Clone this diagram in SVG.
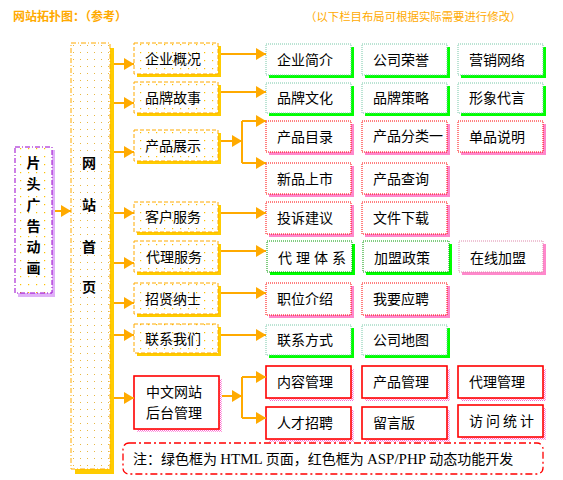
<svg xmlns="http://www.w3.org/2000/svg" width="563" height="480" viewBox="0 0 563 480">
<defs>
<pattern id="dotsMain" width="7" height="7" patternUnits="userSpaceOnUse"><rect x="3" y="3" width="1" height="1" fill="#E8B840"/></pattern>
<pattern id="dotsL1" width="8" height="8" patternUnits="userSpaceOnUse"><rect x="4" y="4" width="1.2" height="1.2" fill="#FFC000"/></pattern>
<pattern id="pinkChk" width="2" height="2" patternUnits="userSpaceOnUse"><rect width="1" height="1" fill="#FF66CC"/><rect x="1" y="1" width="1" height="1" fill="#FF99DD"/></pattern>
<marker id="arr" markerUnits="userSpaceOnUse" markerWidth="11" markerHeight="12" refX="10" refY="6" orient="auto"><path d="M0,0 L10,6 L0,12 Z" fill="#FFAA00"/></marker>
<style>
.t{font-family:"Noto Sans CJK SC","Noto Sans",sans-serif;font-size:14px;fill:#000}
.tb{font-family:"Noto Sans CJK SC","Noto Sans",sans-serif;font-size:14px;font-weight:bold;fill:#000}
.lat{font-family:"Liberation Serif",serif}
.hd{font-family:"Noto Sans CJK SC",sans-serif;fill:#FFAA00}
.l1{fill:url(#dotsL1);stroke:#FFAA00;stroke-width:1;stroke-dasharray:4 2}
.l1bg{fill:#fff}
.sy{fill:#FFCC00}
.sg{fill:#00FF00}
.sp{fill:#FF88CC}
.sc{fill:url(#pinkChk)}
.bg{fill:#fff;stroke:#77C8A8;stroke-width:1;stroke-dasharray:1 1}
.bd{fill:#fff;stroke:#009900;stroke-width:1;stroke-dasharray:1 1}
.br{fill:#fff;stroke:#FF0000;stroke-width:1;stroke-dasharray:1 1}
.bp{fill:#fff;stroke:#DD88AA;stroke-width:1;stroke-dasharray:1 1}
.bs{fill:#fff;stroke:#FF0000;stroke-width:1.6}
.c{fill:none;stroke:#FFAA00;stroke-width:2}
</style>
</defs>
<rect width="563" height="480" fill="#fff"/>
<text class="hd" x="13" y="21" font-size="12" font-weight="bold">网站拓扑图：（参考）</text>
<text class="hd" x="305" y="21" font-size="11.4">（以下栏目布局可根据实际需要进行修改）</text>

<g id="intro">
<rect x="18" y="150" width="37" height="147" fill="#E0B0F8"/>
<rect x="15" y="147" width="37" height="146" fill="#fff"/>
<rect x="15" y="147" width="37" height="146" fill="url(#dotsL1)" stroke="#9900CC" stroke-width="1" stroke-dasharray="5 2 1 2"/>
<text class="tb" x="33.5" y="168" text-anchor="middle">片</text>
<text class="tb" x="33.5" y="189" text-anchor="middle">头</text>
<text class="tb" x="33.5" y="210" text-anchor="middle">广</text>
<text class="tb" x="33.5" y="231" text-anchor="middle">告</text>
<text class="tb" x="33.5" y="252" text-anchor="middle">动</text>
<text class="tb" x="33.5" y="273" text-anchor="middle">画</text>
</g>

<g id="home">
<rect x="75" y="48" width="39" height="426" class="sy"/>
<rect x="71" y="43" width="39" height="426" fill="#fff"/>
<rect x="71" y="43" width="39" height="426" fill="url(#dotsMain)" stroke="#FFAA00" stroke-width="1" stroke-dasharray="5 2 1 2"/>
<text class="tb" x="89" y="168" text-anchor="middle">网</text>
<text class="tb" x="89" y="210" text-anchor="middle">站</text>
<text class="tb" x="89" y="252" text-anchor="middle">首</text>
<text class="tb" x="89" y="292" text-anchor="middle">页</text>
</g>

<g id="l1-qygk"><rect x="137" y="46" width="84" height="31" class="sy"/><rect x="134" y="43" width="84" height="31" class="l1bg"/><rect x="134" y="43" width="84" height="31" class="l1"/><text class="t" x="145" y="64">企业概况</text></g>
<g id="l1-ppgs"><rect x="137" y="85" width="84" height="31" class="sy"/><rect x="134" y="82" width="84" height="31" class="l1bg"/><rect x="134" y="82" width="84" height="31" class="l1"/><text class="t" x="145" y="103">品牌故事</text></g>
<g id="l1-cpzs"><rect x="137" y="133" width="84" height="31" class="sy"/><rect x="134" y="130" width="84" height="31" class="l1bg"/><rect x="134" y="130" width="84" height="31" class="l1"/><text class="t" x="145" y="151">产品展示</text></g>
<g id="l1-khfw"><rect x="137" y="205" width="84" height="30" class="sy"/><rect x="134" y="202" width="84" height="30" class="l1bg"/><rect x="134" y="202" width="84" height="30" class="l1"/><text class="t" x="145" y="222">客户服务</text></g>
<g id="l1-dlfw"><rect x="137" y="244" width="84" height="31" class="sy"/><rect x="134" y="241" width="84" height="31" class="l1bg"/><rect x="134" y="241" width="84" height="31" class="l1"/><text class="t" x="146" y="262">代理服务</text></g>
<g id="l1-zxns"><rect x="137" y="286" width="84" height="31" class="sy"/><rect x="134" y="283" width="84" height="31" class="l1bg"/><rect x="134" y="283" width="84" height="31" class="l1"/><text class="t" x="145" y="304">招贤纳士</text></g>
<g id="l1-lxwm"><rect x="137" y="327" width="84" height="29" class="sy"/><rect x="134" y="324" width="84" height="29" class="l1bg"/><rect x="134" y="324" width="84" height="29" class="l1"/><text class="t" x="145" y="344">联系我们</text></g>
<g id="l1-htgl"><rect x="137" y="379" width="85" height="53" class="sc"/><rect x="134" y="376" width="85" height="53" class="bs"/><text class="t" x="146" y="397">中文网站</text><text class="t" x="146" y="418">后台管理</text></g>

<g id="n-qyjj"><rect x="269" y="47" width="85" height="31" class="sg"/><rect x="266" y="44" width="85" height="31" class="bg"/><text class="t" x="277" y="65">企业简介</text></g>
<g id="n-gsry"><rect x="365" y="47" width="85" height="31" class="sg"/><rect x="362" y="44" width="85" height="31" class="bg"/><text class="t" x="373" y="65">公司荣誉</text></g>
<g id="n-yxwl"><rect x="461" y="47" width="85" height="31" class="sg"/><rect x="458" y="44" width="85" height="31" class="bg"/><text class="t" x="469" y="65">营销网络</text></g>

<g id="n-ppwh"><rect x="269" y="86" width="85" height="30" class="sg"/><rect x="266" y="83" width="85" height="30" class="bg"/><text class="t" x="277" y="103">品牌文化</text></g>
<g id="n-ppcl"><rect x="365" y="86" width="85" height="30" class="sg"/><rect x="362" y="83" width="85" height="30" class="bg"/><text class="t" x="373" y="103">品牌策略</text></g>
<g id="n-xxdy"><rect x="461" y="86" width="85" height="30" class="sg"/><rect x="458" y="83" width="85" height="30" class="bg"/><text class="t" x="469" y="103">形象代言</text></g>

<g id="n-cpml"><rect x="269" y="124" width="85" height="31" class="sp"/><rect x="266" y="121" width="85" height="31" class="br"/><text class="t" x="277" y="142">产品目录</text></g>
<g id="n-cpfl"><rect x="365" y="124" width="85" height="31" class="sp"/><rect x="362" y="121" width="85" height="31" class="br"/><text class="t" x="373" y="141" font-size="12">产品分类一</text></g>
<g id="n-dpsm"><rect x="461" y="124" width="85" height="31" class="sp"/><rect x="458" y="121" width="85" height="31" class="br"/><text class="t" x="469" y="142">单品说明</text></g>

<g id="n-xpss"><rect x="269" y="166" width="85" height="31" class="sp"/><rect x="266" y="163" width="85" height="31" class="br"/><text class="t" x="277" y="184">新品上市</text></g>
<g id="n-cpcx"><rect x="365" y="166" width="85" height="31" class="sp"/><rect x="362" y="163" width="85" height="31" class="br"/><text class="t" x="373" y="184">产品查询</text></g>

<g id="n-tsjy"><rect x="269" y="205" width="85" height="32" class="sp"/><rect x="266" y="202" width="85" height="32" class="br"/><text class="t" x="277" y="223">投诉建议</text></g>
<g id="n-wjxz"><rect x="365" y="205" width="85" height="32" class="sp"/><rect x="362" y="202" width="85" height="32" class="br"/><text class="t" x="373" y="223">文件下载</text></g>

<g id="n-dltx"><rect x="270" y="244" width="85" height="31" class="sg"/><rect x="267" y="241" width="85" height="31" class="bd"/><text class="t" x="278" y="263" letter-spacing="4">代理体系</text></g>
<g id="n-jmzc"><rect x="366" y="244" width="86" height="31" class="sg"/><rect x="363" y="241" width="86" height="31" class="bd"/><text class="t" x="374" y="263">加盟政策</text></g>
<g id="n-zxjm"><rect x="462" y="244" width="84" height="31" class="sp"/><rect x="459" y="241" width="84" height="31" class="bp"/><text class="t" x="470" y="263">在线加盟</text></g>

<g id="n-zwjs"><rect x="269" y="286" width="85" height="32" class="sp"/><rect x="266" y="283" width="85" height="32" class="br"/><text class="t" x="277" y="304">职位介绍</text></g>
<g id="n-wyyp"><rect x="365" y="286" width="85" height="32" class="sp"/><rect x="362" y="283" width="85" height="32" class="br"/><text class="t" x="373" y="304">我要应聘</text></g>

<g id="n-lxfs"><rect x="269" y="328" width="85" height="30" class="sg"/><rect x="266" y="325" width="85" height="30" class="bg"/><text class="t" x="277" y="345">联系方式</text></g>
<g id="n-gsdt"><rect x="365" y="328" width="85" height="30" class="sg"/><rect x="362" y="325" width="85" height="30" class="bg"/><text class="t" x="373" y="345">公司地图</text></g>

<g id="n-nrgl"><rect x="269" y="369" width="85" height="32" class="sc"/><rect x="266" y="366" width="85" height="32" class="bs"/><text class="t" x="277" y="387">内容管理</text></g>
<g id="n-cpgl"><rect x="365" y="369" width="85" height="32" class="sc"/><rect x="362" y="366" width="85" height="32" class="bs"/><text class="t" x="373" y="387">产品管理</text></g>
<g id="n-dlgl"><rect x="461" y="369" width="85" height="32" class="sc"/><rect x="458" y="366" width="85" height="32" class="bs"/><text class="t" x="469" y="387">代理管理</text></g>

<g id="n-rczp"><rect x="269" y="410" width="85" height="32" class="sc"/><rect x="266" y="407" width="85" height="32" class="bs"/><text class="t" x="277" y="428">人才招聘</text></g>
<g id="n-lyb"><rect x="365" y="410" width="85" height="32" class="sc"/><rect x="362" y="407" width="85" height="32" class="bs"/><text class="t" x="373" y="428">留言版</text></g>
<g id="n-fwtj"><rect x="461" y="408" width="85" height="32" class="sc"/><rect x="458" y="405" width="85" height="32" class="bs"/><text class="t" x="469" y="426" letter-spacing="3">访问统计</text></g>

<g id="note">
<rect x="123" y="443" width="420" height="31" rx="6" fill="#fff" stroke="#FF0000" stroke-width="1.3" stroke-dasharray="7 3 2 3"/>
<text class="t" x="133" y="464">注：绿色框为 <tspan class="lat" font-size="15">HTML</tspan> 页面，红色框为 <tspan class="lat" font-size="15">ASP/PHP</tspan> 动态功能开发</text>
</g>

<g id="connectors">
<path class="c" d="M55,211 H71" marker-end="url(#arr)"/>
<path class="c" d="M114,64 H134" marker-end="url(#arr)"/>
<path class="c" d="M114,103 H134" marker-end="url(#arr)"/>
<path class="c" d="M114,152 H134" marker-end="url(#arr)"/>
<path class="c" d="M114,213 H134" marker-end="url(#arr)"/>
<path class="c" d="M114,263 H134" marker-end="url(#arr)"/>
<path class="c" d="M114,303 H134" marker-end="url(#arr)"/>
<path class="c" d="M114,335 H134" marker-end="url(#arr)"/>
<path class="c" d="M114,398 H134" marker-end="url(#arr)"/>
<path class="c" d="M221,54 H266" marker-end="url(#arr)"/>
<path class="c" d="M221,92 H266" marker-end="url(#arr)"/>
<path class="c" d="M221,141 H242" marker-end="url(#arr)"/>
<path class="c" d="M242,163 V121" stroke-width="1.5"/>
<path class="c" d="M242,121 H266" marker-end="url(#arr)"/>
<path class="c" d="M242,163 H266" marker-end="url(#arr)"/>
<path class="c" d="M221,213 H266" marker-end="url(#arr)"/>
<path class="c" d="M221,251 H266" marker-end="url(#arr)"/>
<path class="c" d="M221,293 H266" marker-end="url(#arr)"/>
<path class="c" d="M221,335 H266" marker-end="url(#arr)"/>
<path class="c" d="M222,396 H242" marker-end="url(#arr)"/>
<path class="c" d="M242,418 V377" stroke-width="1.5"/>
<path class="c" d="M242,377 H266" marker-end="url(#arr)"/>
<path class="c" d="M242,418 H266" marker-end="url(#arr)"/>
</g>
</svg>
